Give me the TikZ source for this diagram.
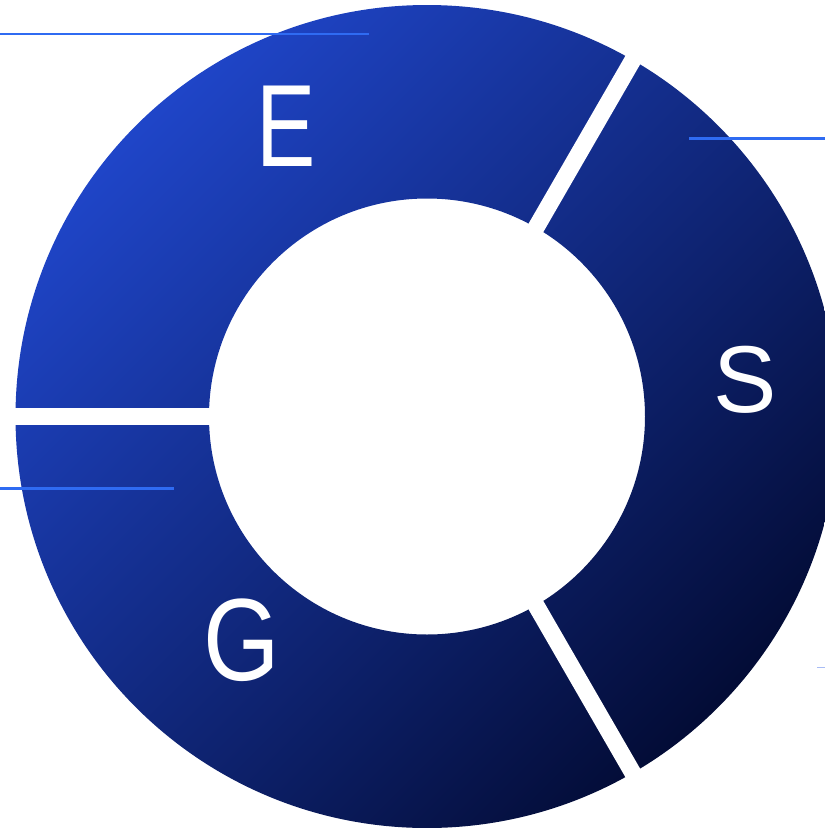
\documentclass[tikz,border=0pt]{standalone}
\usepackage{fontspec}
\setsansfont{Liberation Sans}
\definecolor{ringlight}{HTML}{1F45C8}
\definecolor{ringdark}{HTML}{030C36}
\definecolor{leaderblue}{HTML}{2F6BF2}
\definecolor{leaderpale}{HTML}{A8BCF5}
\tikzset{
  letter/.style={text=white, inner sep=0pt, font=\sffamily\fontsize{117}{117}\selectfont},
  leader/.style={draw=leaderblue, line width=2.2pt},
}
\begin{document}
\begin{tikzpicture}[x=1pt,y=-1pt]
            \useasboundingbox (0,0) rectangle (825,828);
            \clip (0,0) rectangle (825,828);
            \coordinate (O) at (427,416.5);
            \shade[even odd rule, top color=ringlight, bottom color=ringdark, shading angle=45]
                (O) circle (411.5) (O) circle (218);
            \foreach \a in {60,180,300} {
                \draw[white, line width=17pt] (O) ++(\a:205) -- ++(\a:225);
            }
            \node[letter, xscale=0.76] (e) at (286,126) {E};
            \node[letter, font=\sffamily\fontsize{95}{95}\selectfont] (s) at (745,380) {S};
            \node[letter, xscale=0.84] (g) at (241.5,640) {G};
            \draw[leader] (0,34) -- (369,34);
            \draw[leader] (689,138.5) -- (825,138.5);
            \draw[leader] (0,488.5) -- (174,488.5);
            \draw[leader, draw=leaderpale, line width=1.6pt] (817,667.5) -- (825,667.5);
        \end{tikzpicture}
\end{document}
